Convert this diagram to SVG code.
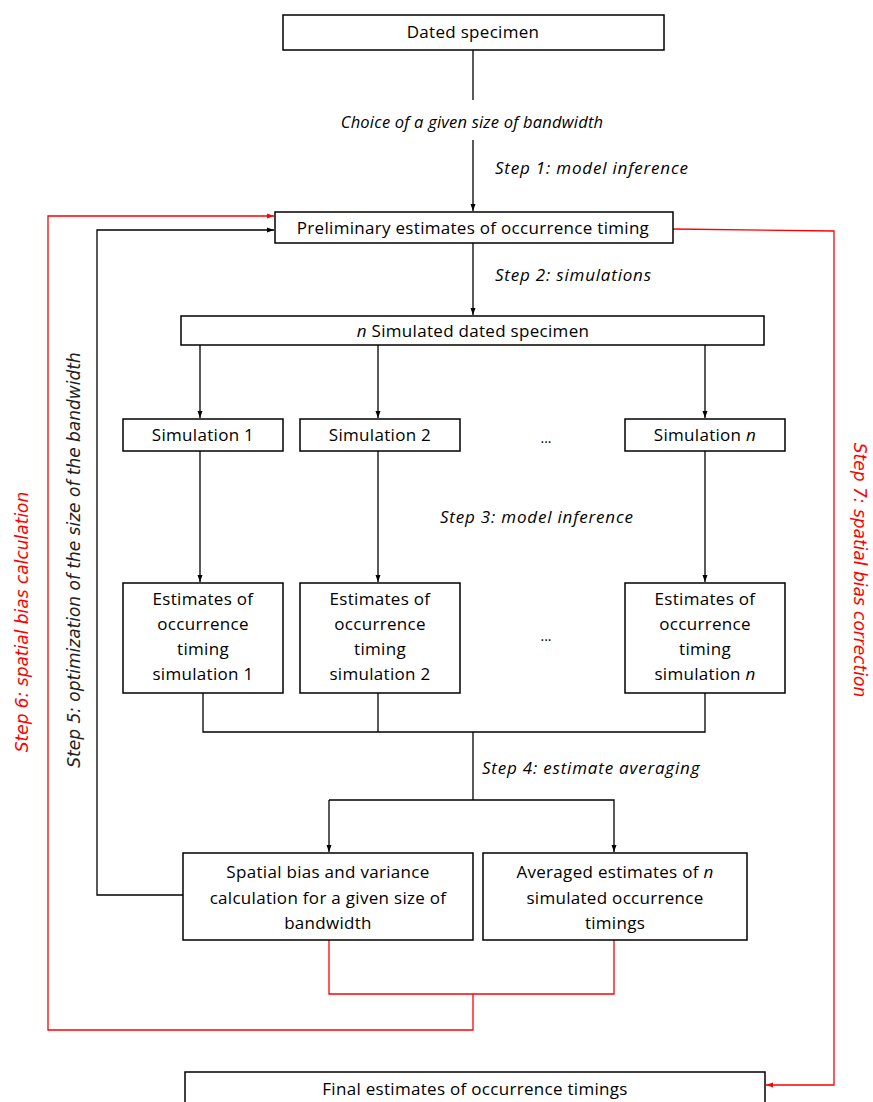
<svg xmlns="http://www.w3.org/2000/svg" width="873" height="1102" viewBox="0 0 873 1102">
<defs>
<marker id="ab" markerWidth="8" markerHeight="8" refX="7" refY="4" orient="auto" markerUnits="userSpaceOnUse"><path d="M0,1.5 L7,4 L0,6.5 Z" fill="#000"/></marker>
<marker id="ar" markerWidth="8" markerHeight="8" refX="7" refY="4" orient="auto" markerUnits="userSpaceOnUse"><path d="M0,1.5 L7,4 L0,6.5 Z" fill="#ff0000"/></marker>
<style>
.box{fill:#fff;stroke:#000;stroke-width:1.5}
.t{font-family:"Open Sans","Liberation Sans",sans-serif;font-size:17px;letter-spacing:0.3px;fill:#000;text-anchor:middle}
.s{font-family:"Open Sans","Liberation Sans",sans-serif;font-size:17px;letter-spacing:0.8px;font-style:italic;fill:#000}
.c{font-family:"Open Sans","Liberation Sans",sans-serif;font-size:16.5px;letter-spacing:0.2px;font-style:italic;fill:#000;text-anchor:middle}
.d{font-family:"Open Sans","Liberation Sans",sans-serif;font-size:14px;fill:#000;text-anchor:middle}
.k{fill:none;stroke:#000;stroke-width:1.3}
.r{fill:none;stroke:#ff0000;stroke-width:1.3}
.v{font-family:"DejaVu Sans",sans-serif;font-size:17px;font-style:italic;text-anchor:middle}
</style>
</defs>
<rect width="873" height="1102" fill="#fff"/>
<g id="connectors">
<line class="k" x1="473" y1="50" x2="473" y2="100"/>
<line class="k" x1="473" y1="140" x2="473" y2="211" marker-end="url(#ab)"/>
<line class="k" x1="473" y1="243" x2="473" y2="315" marker-end="url(#ab)"/>
<line class="k" x1="200" y1="345" x2="200" y2="418" marker-end="url(#ab)"/>
<line class="k" x1="378" y1="345" x2="378" y2="418" marker-end="url(#ab)"/>
<line class="k" x1="705" y1="345" x2="705" y2="418" marker-end="url(#ab)"/>
<line class="k" x1="200" y1="451" x2="200" y2="582" marker-end="url(#ab)"/>
<line class="k" x1="378" y1="451" x2="378" y2="582" marker-end="url(#ab)"/>
<line class="k" x1="705" y1="451" x2="705" y2="582" marker-end="url(#ab)"/>
<polyline class="k" points="203,693 203,732 705,732 705,693"/>
<line class="k" x1="378" y1="693" x2="378" y2="732"/>
<line class="k" x1="473" y1="732" x2="473" y2="800"/>
<polyline class="k" points="329,800 614,800 614,852" marker-end="url(#ab)"/>
<line class="k" x1="329" y1="800" x2="329" y2="852" marker-end="url(#ab)"/>
<polyline class="k" points="183,895 97,895 97,230 274,230" marker-end="url(#ab)"/>
<polyline class="r" points="329,940 329,994 614,994 614,940"/>
<polyline class="r" points="473,994 473,1030 48,1030 48,216 274,216" marker-end="url(#ar)"/>
<polyline class="r" points="673,229 834,231 834,1085 766,1085" marker-end="url(#ar)"/>
</g>
<g id="n-dated"><rect class="box" x="283" y="15" width="381" height="35"/><text class="t" x="473" y="38">Dated specimen</text></g>
<g id="lbl-choice"><text class="c" x="472" y="128">Choice of a given size of bandwidth</text></g>
<g id="lbl-step1"><text class="s" x="495" y="174">Step 1: model inference</text></g>
<g id="n-prelim"><rect class="box" x="275" y="212" width="398" height="31"/><text class="t" x="473" y="234">Preliminary estimates of occurrence timing</text></g>
<g id="lbl-step2"><text class="s" x="495" y="281">Step 2: simulations</text></g>
<g id="n-nsim"><rect class="box" x="181" y="316" width="583" height="29"/><text class="t" x="473" y="337"><tspan font-style="italic">n</tspan> Simulated dated specimen</text></g>
<g id="n-sim1"><rect class="box" x="123" y="419" width="160" height="32"/><text class="t" x="203" y="441">Simulation 1</text></g>
<g id="n-sim2"><rect class="box" x="300" y="419" width="160" height="32"/><text class="t" x="380" y="441">Simulation 2</text></g>
<g id="dots1"><text class="d" x="546" y="443">...</text></g>
<g id="n-simn"><rect class="box" x="625" y="419" width="160" height="32"/><text class="t" x="705" y="441">Simulation <tspan font-style="italic">n</tspan></text></g>
<g id="lbl-step3"><text class="s" x="440" y="523">Step 3: model inference</text></g>
<g id="n-est1"><rect class="box" x="123" y="583" width="160" height="110"/><text class="t" x="203" y="605">Estimates of</text><text class="t" x="203" y="630">occurrence</text><text class="t" x="203" y="655">timing</text><text class="t" x="203" y="680">simulation 1</text></g>
<g id="n-est2"><rect class="box" x="300" y="583" width="160" height="110"/><text class="t" x="380" y="605">Estimates of</text><text class="t" x="380" y="630">occurrence</text><text class="t" x="380" y="655">timing</text><text class="t" x="380" y="680">simulation 2</text></g>
<g id="dots2"><text class="d" x="546" y="641">...</text></g>
<g id="n-estn"><rect class="box" x="625" y="583" width="160" height="110"/><text class="t" x="705" y="605">Estimates of</text><text class="t" x="705" y="630">occurrence</text><text class="t" x="705" y="655">timing</text><text class="t" x="705" y="680">simulation <tspan font-style="italic">n</tspan></text></g>
<g id="lbl-step4"><text class="s" x="482" y="774">Step 4: estimate averaging</text></g>
<g id="n-spatial"><rect class="box" x="183" y="853" width="290" height="87"/><text class="t" x="328" y="878">Spatial bias and variance</text><text class="t" x="328" y="904">calculation for a given size of</text><text class="t" x="328" y="929">bandwidth</text></g>
<g id="n-avg"><rect class="box" x="483" y="853" width="264" height="87"/><text class="t" x="615" y="878">Averaged estimates of <tspan font-style="italic">n</tspan></text><text class="t" x="615" y="904">simulated occurrence</text><text class="t" x="615" y="929">timings</text></g>
<g id="n-final"><rect class="box" x="185" y="1072" width="580" height="40"/><text class="t" x="475" y="1095">Final estimates of occurrence timings</text></g>
<g id="lbl-step6"><text class="v" fill="#ff0000" transform="translate(28,622) rotate(-90)">Step 6:  spatial bias calculation</text></g>
<g id="lbl-step5"><text class="v" fill="#222" transform="translate(80,560) rotate(-90)">Step 5:  optimization of the size of the bandwidth</text></g>
<g id="lbl-step7"><text class="v" fill="#ff0000" transform="translate(854,570) rotate(90)">Step 7: spatial bias correction</text></g>
</svg>
